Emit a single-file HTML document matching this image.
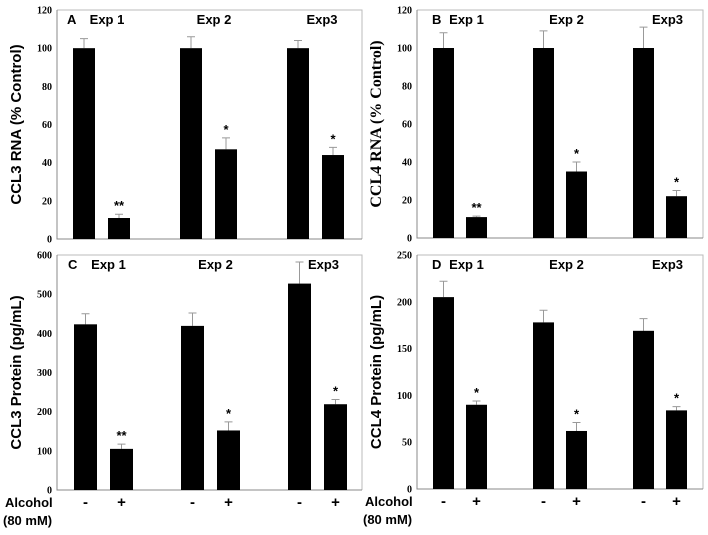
<!DOCTYPE html>
<html><head><meta charset="utf-8"><style>
body{margin:0;background:#fff}
svg text{font-family:"Liberation Sans",Arial,sans-serif}
.tick{font-family:"Liberation Serif",serif;font-weight:bold;font-size:10px}
</style></head><body>
<svg id="fig" width="708" height="530" xmlns="http://www.w3.org/2000/svg"></svg>
<script>
const categories = ["Exp 1 -","Exp 1 +","Exp 2 -","Exp 2 +","Exp3 -","Exp3 +"];
const groupLabels = ["Exp 1","Exp 2","Exp3"];
const valuesA = [100,11,100,47,100,44];
const errorsA = [5,2,6,6,4,4];
const starsA = ["","**","","*","","*"];
const valuesB = [100,11,100,35,100,22];
const errorsB = [8,0.5,9,5,11,3];
const starsB = ["","**","","*","","*"];
const valuesC = [423,105,419,152,527,219];
const errorsC = [27,12,33,22,55,12];
const starsC = ["","**","","*","","*"];
const valuesD = [205,90,178,62,169,84];
const errorsD = [17,4,13,9,13,4];
const starsD = ["","*","","*","","*"];
const ticksA = [0,20,40,60,80,100,120];
const ticksC = [0,100,200,300,400,500,600];
const ticksD = [0,50,100,150,200,250];

const svg=document.getElementById('fig');
const NS="http://www.w3.org/2000/svg";
function mk(tag,attrs,parent){const e=document.createElementNS(NS,tag);for(const k in attrs)e.setAttribute(k,attrs[k]);(parent||svg).appendChild(e);return e;}

function panel(p){
  const g=mk('g',{});
  
  
  const ymax=p.ticks[p.ticks.length-1];
  const y=v=>p.y0-(v/ymax)*(p.y0-p.ytop);
  const fr=mk('path',{d:`M${p.x0} ${p.ytop} H${p.xr} V${p.y0}`,fill:'none',stroke:'#bbb','stroke-width':1},g);
  
  
  const ax=mk('path',{d:`M${p.x0} ${p.ytop} V${p.y0} H${p.xr}`,fill:'none',stroke:'#888','stroke-width':1},g);
  
  
  p.ticks.forEach(t=>{
    const tl=mk('text',{x:p.x0-5,y:y(t)+3.5,'text-anchor':'end',class:'tick'},g);
    tl.textContent=t;
    
    
  });
  const tt=mk('text',{x:0,y:0,'font-size':p.serifTitle?16:15,'font-weight':'bold','text-anchor':'middle',transform:`translate(${p.x0-36},${(p.y0+p.ytop)/2}) rotate(-90)`},g);
  if(p.serifTitle)tt.setAttribute('style','font-family:"Liberation Serif",serif');
  tt.textContent=p.title;
  
  
  const lt=mk('text',{x:p.x0+p.lx,y:p.ytop+14,'font-size':13,'font-weight':'bold'},g);
  lt.textContent=p.letter;
  
  
  p.vals.forEach((v,i)=>{
    const grp=Math.floor(i/2), side=i%2;
    const bx=p.x0+p.off+grp*p.gs+side*p.ps;
    const e=p.errs[i];
    const el=mk('path',{d:`M${bx+p.bw/2} ${y(v)} V${y(v+e)} M${bx+p.bw/2-4} ${y(v+e)} H${bx+p.bw/2+4}`,stroke:'#999','stroke-width':1,fill:'none'},g);
    
    
    const r=mk('rect',{x:bx,y:y(v),width:p.bw,height:p.y0-y(v),fill:'#000'},g);
    
    
    if(p.stars[i]){
      const s=mk('text',{x:bx+p.bw/2,y:y(v+e)-4,'text-anchor':'middle','font-size':13,'font-weight':'bold'},g);
      s.textContent=p.stars[i];
      
      
    }
    if(side===0){
      const gl=mk('text',{x:bx+p.bw/2+23+(grp===2?1:0),y:p.ytop+14,'text-anchor':'middle','font-size':13,'font-weight':'bold'},g);
      gl.textContent=groupLabels[grp];
      
      
    }
    if(p.xlabels){
      const xl=mk('text',{x:bx+p.bw/2,y:p.y0+17,'text-anchor':'middle','font-size':15,'font-weight':'bold'},g);
      xl.textContent=side?'+':'-';
      
      
    }
  });
  if(p.xlabels){
    const a=mk('text',{x:p.x0-52,y:p.y0+17,'font-size':13,'font-weight':'bold'},g);
    a.textContent='Alcohol';
    
    
    const b=mk('text',{x:p.x0-54,y:p.y0+35,'font-size':13,'font-weight':'bold'},g);
    b.textContent='(80 mM)';
    
    
  }
}
panel({letter:'A',lx:10,x0:57,xr:362,ytop:10,y0:239,ticks:ticksA,vals:valuesA,errs:errorsA,stars:starsA,title:'CCL3 RNA (% Control)',off:16,gs:107,ps:35,bw:22});
panel({letter:'B',lx:15,x0:417,xr:703,ytop:10,y0:238,ticks:ticksA,vals:valuesB,errs:errorsB,stars:starsB,title:'CCL4 RNA (% Control)',serifTitle:true,off:16,gs:100,ps:33,bw:21});
panel({letter:'C',lx:11,x0:57,xr:362,ytop:255,y0:490,ticks:ticksC,vals:valuesC,errs:errorsC,stars:starsC,title:'CCL3 Protein (pg/mL)',off:17,gs:107,ps:36,bw:23,xlabels:true});
panel({letter:'D',lx:15,x0:417,xr:703,ytop:255,y0:489,ticks:ticksD,vals:valuesD,errs:errorsD,stars:starsD,title:'CCL4 Protein (pg/mL)',off:16,gs:100,ps:33,bw:21,xlabels:true});
</script>
</body></html>
